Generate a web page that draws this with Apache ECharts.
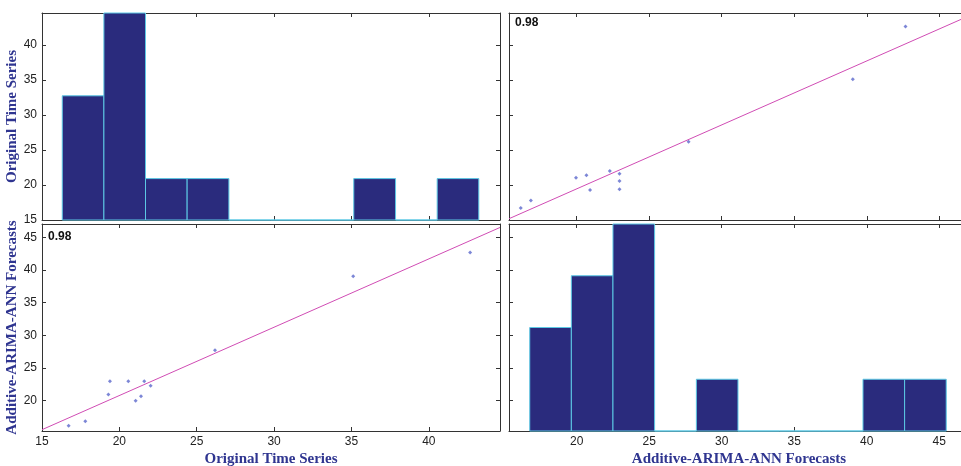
<!DOCTYPE html>
<html>
<head>
<meta charset="utf-8">
<script src="https://cdn.jsdelivr.net/npm/echarts@6/dist/echarts.min.js"></script>
<style>
  html, body { margin: 0; padding: 0; background: #fff; }
  #chart { width: 961px; height: 466px; }
</style>
</head>
<body>
<div id="chart"></div>
<script>
// values
const original = [16.72, 17.80, 19.29, 19.39, 20.58, 21.05, 21.40, 21.61, 22.02, 26.18, 35.11, 42.67]
const forecast = [16.14, 16.84, 20.92, 22.95, 22.95, 19.95, 20.67, 22.95, 22.28, 27.71, 39.04, 42.67]
// histograms (bin edges as drawn, counts per bin)
const origBinEdges = [16.31, 19.00, 21.69, 24.38, 27.08, 29.77, 32.46, 35.15, 37.85, 40.54, 43.23]
const origCounts = [3, 5, 1, 1, 0, 0, 0, 1, 0, 1]
const fcBinEdges = [16.76, 19.63, 22.50, 25.37, 28.25, 31.12, 33.99, 36.86, 39.74, 42.61, 45.48]
const fcCounts = [2, 3, 4, 0, 1, 0, 0, 0, 1, 1]
const corrLabel = '0.98'
const origRange = [15, 44.6]
const fcRange = [15.33, 47.05]

const titleColor = '#2F3590'
const axisColor = '#333'

let chart = echarts.init(document.getElementById('chart'))

// least squares line y = a + b x
function fit(xs, ys) {
  const n = xs.length
  const mx = xs.reduce((s, v) => s + v, 0) / n
  const my = ys.reduce((s, v) => s + v, 0) / n
  let sxy = 0, sxx = 0
  xs.forEach((x, i) => { sxy += (x - mx) * (ys[i] - my); sxx += (x - mx) * (x - mx) })
  const b = sxy / sxx
  return { a: my - b * mx, b: b }
}
function lineData(xs, ys, range) {
  const f = fit(xs, ys)
  return range.map(x => [x, f.a + f.b * x])
}
function histData(edges, counts) {
  return counts.map((c, i) => [edges[i], edges[i + 1], c])
}
function histItem(params, api) {
  const p0 = api.coord([api.value(0), 0])
  const p1 = api.coord([api.value(1), api.value(2)])
  return {
    type: 'rect',
    shape: { x: p0[0], y: p1[1], width: p1[0] - p0[0], height: p0[1] - p1[1] },
    style: { fill: '#2A2B7D', stroke: '#5CC8E4', lineWidth: 1 }
  }
}

// one value axis, ticks inside like matlab
function valAxis(gridIndex, position, range, labels, extra) {
  return Object.assign({
    type: 'value',
    gridIndex: gridIndex,
    position: position,
    min: range[0],
    max: range[1],
    splitNumber: 6,
    minInterval: 5,
    maxInterval: 5,
    axisLine: { show: true, onZero: false, lineStyle: { color: axisColor, width: 1 } },
    axisTick: { show: true, inside: true, length: 4, lineStyle: { color: axisColor } },
    splitLine: { show: false },
    axisLabel: {
      show: labels,
      showMinLabel: range[0] % 5 === 0,
      showMaxLabel: false,
      color: '#222',
      fontFamily: 'Liberation Sans, Arial',
      fontSize: 12,
      margin: 5
    }
  }, extra || {})
}

const nameStyle = {
  color: titleColor,
  fontFamily: 'Liberation Serif, Times New Roman, serif',
  fontWeight: 'bold',
  fontSize: 15
}

var option = {
  backgroundColor: '#fff',
  animation: false,
  grid: [
    { left: 42, top: 13, width: 458, height: 207, outerBoundsMode: 'none' },
    { left: 509, top: 13, width: 460, height: 207, outerBoundsMode: 'none' },
    { left: 42, top: 224, width: 458, height: 207, outerBoundsMode: 'none' },
    { left: 509, top: 224, width: 460, height: 207, outerBoundsMode: 'none' }
  ],
  xAxis: [
    valAxis(0, 'bottom', origRange, false),
    valAxis(0, 'top', origRange, false),
    valAxis(1, 'bottom', fcRange, false),
    valAxis(1, 'top', fcRange, false),
    valAxis(2, 'bottom', origRange, true, {
      name: 'Original Time Series', nameLocation: 'middle', nameGap: 21, nameTextStyle: nameStyle
    }),
    valAxis(2, 'top', origRange, false),
    valAxis(3, 'bottom', fcRange, true, {
      name: 'Additive-ARIMA-ANN Forecasts', nameLocation: 'middle', nameGap: 21, nameTextStyle: nameStyle
    }),
    valAxis(3, 'top', fcRange, false)
  ],
  yAxis: [
    valAxis(0, 'left', origRange, true, {
      name: 'Original Time Series', nameLocation: 'middle', nameGap: 22, nameTextStyle: nameStyle
    }),
    valAxis(0, 'right', origRange, false),
    { type: 'value', gridIndex: 0, min: 0, max: Math.max(...origCounts), show: false },
    valAxis(1, 'left', origRange, false),
    valAxis(1, 'right', origRange, false),
    valAxis(2, 'left', fcRange, true, {
      name: 'Additive-ARIMA-ANN Forecasts', nameLocation: 'middle', nameGap: 22, nameTextStyle: nameStyle
    }),
    valAxis(2, 'right', fcRange, false),
    valAxis(3, 'left', fcRange, false),
    valAxis(3, 'right', fcRange, false),
    { type: 'value', gridIndex: 3, min: 0, max: Math.max(...fcCounts), show: false }
  ],
  graphic: [
    { type: 'text', left: 515, top: 17, style: { text: corrLabel, font: 'bold 12px "Liberation Sans Narrow", "Liberation Sans", Arial', fill: '#111' } },
    { type: 'text', left: 48, top: 231, style: { text: corrLabel, font: 'bold 12px "Liberation Sans Narrow", "Liberation Sans", Arial', fill: '#111' } }
  ],
  series: [
    {
      name: 'hist original',
      type: 'custom',
      xAxisIndex: 0,
      yAxisIndex: 2,
      renderItem: histItem,
      encode: { x: [0, 1], y: 2 },
      data: histData(origBinEdges, origCounts),
      z: 1
    },
    {
      name: 'hist forecast',
      type: 'custom',
      xAxisIndex: 6,
      yAxisIndex: 9,
      renderItem: histItem,
      encode: { x: [0, 1], y: 2 },
      data: histData(fcBinEdges, fcCounts),
      z: 1
    },
    {
      name: 'forecast vs original',
      type: 'scatter',
      xAxisIndex: 2,
      yAxisIndex: 3,
      symbol: 'diamond',
      symbolSize: 4,
      itemStyle: { color: '#5B68CC' },
      data: forecast.map((f, i) => [f, original[i]])
    },
    {
      name: 'fit top',
      type: 'line',
      xAxisIndex: 2,
      yAxisIndex: 3,
      symbol: 'none',
      clip: true,
      lineStyle: { color: '#D04CB4', width: 1 },
      data: lineData(forecast, original, fcRange)
    },
    {
      name: 'original vs forecast',
      type: 'scatter',
      xAxisIndex: 4,
      yAxisIndex: 5,
      symbol: 'diamond',
      symbolSize: 4,
      itemStyle: { color: '#5B68CC' },
      data: original.map((o, i) => [o, forecast[i]])
    },
    {
      name: 'fit bottom',
      type: 'line',
      xAxisIndex: 4,
      yAxisIndex: 5,
      symbol: 'none',
      clip: true,
      lineStyle: { color: '#D04CB4', width: 1 },
      data: lineData(original, forecast, origRange)
    }
  ]
}

chart.setOption(option)
</script>
</body>
</html>
